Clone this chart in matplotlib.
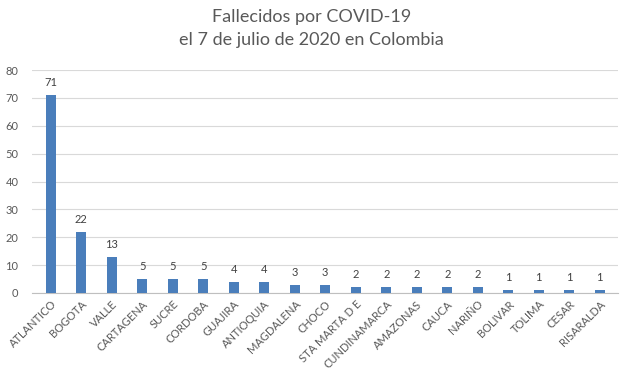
import matplotlib
matplotlib.use("Agg")
import matplotlib.pyplot as plt

# data
departamentos = ["ATLANTICO", "BOGOTA", "VALLE", "CARTAGENA", "SUCRE", "CORDOBA",
                 "GUAJIRA", "ANTIOQUIA", "MAGDALENA", "CHOCO", "STA MARTA D E",
                 "CUNDINAMARCA", "AMAZONAS", "CAUCA", "NARIÑO", "BOLIVAR",
                 "TOLIMA", "CESAR", "RISARALDA"]
fallecidos = [71, 22, 13, 5, 5, 5, 4, 4, 3, 3, 2, 2, 2, 2, 2, 1, 1, 1, 1]
y_ticks = [0, 10, 20, 30, 40, 50, 60, 70, 80]

BAR_COLOR = "#4A7EBB"
TEXT_COLOR = "#595959"

plt.rcParams["font.family"] = ["Lato", "DejaVu Sans"]

fig = plt.figure(figsize=(6.23, 3.79), dpi=100)
ax = fig.add_axes([0.052, 0.227, 0.94, 0.588])

x = range(len(departamentos))
ax.bar(x, fallecidos, width=0.33, color=BAR_COLOR, zorder=3)

for xi, v in zip(x, fallecidos):
    ax.text(xi, v + 2.5, str(v), ha="center", va="bottom",
            fontsize=8, color="#404040")

ax.set_xlim(-0.6, len(departamentos) - 0.4)
ax.set_ylim(0, 80)
ax.set_yticks(y_ticks)
ax.set_xticks(list(x))
ax.set_xticklabels(departamentos, rotation=45, ha="right",
                   rotation_mode="anchor", fontsize=8, color=TEXT_COLOR)
ax.tick_params(axis="y", labelsize=8, labelcolor=TEXT_COLOR, length=0, pad=10)
ax.tick_params(axis="x", length=0, pad=4)

ax.grid(axis="y", color="#D9D9D9", linewidth=0.8, zorder=0)
for side in ["top", "right", "left"]:
    ax.spines[side].set_visible(False)
ax.spines["bottom"].set_color("#BFBFBF")

fig.suptitle("Fallecidos por COVID-19\nel 7 de julio de 2020 en Colombia",
             y=0.975, fontsize=13, color=TEXT_COLOR, linespacing=1.5)

fig.savefig("out.png", dpi=100, facecolor="white")
